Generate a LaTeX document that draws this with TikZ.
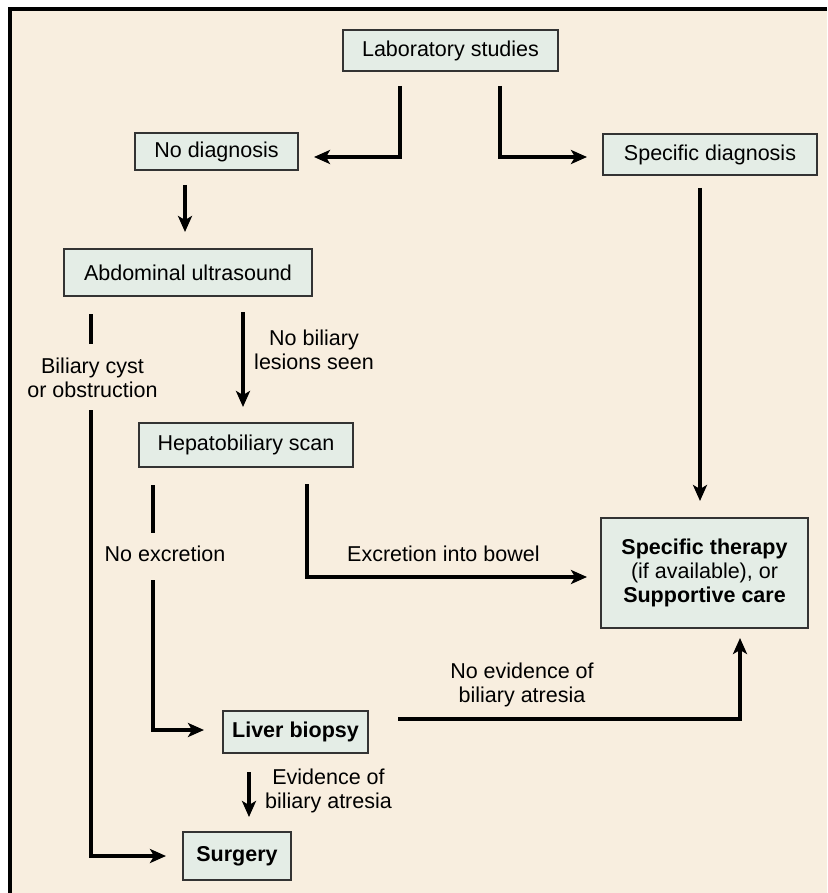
\documentclass[tikz,border=0pt]{standalone}
\usepackage{fontspec}
\setmainfont{Liberation Sans}
\usetikzlibrary{arrows.meta}
\definecolor{bgc}{HTML}{F8EEDF}
\definecolor{boxc}{HTML}{E4EDE6}
\definecolor{edgec}{HTML}{333333}
\tikzset{
  stepbox/.style={draw=edgec, line width=2pt, fill=boxc, inner sep=0pt, align=center,
    font=\fontsize{21.5}{24}\selectfont},
  lbl/.style={inner sep=0pt, align=center, font=\fontsize{21.5}{24}\selectfont},
  conn/.style={line width=3.2pt, black},
  arr/.style={conn, -{Stealth[length=16pt,width=14pt,inset=4pt]}},
}
\begin{document}
\begin{tikzpicture}[x=1pt,y=-1pt]
\useasboundingbox (0,0) rectangle (827,893);
\fill[white] (0,0) rectangle (827,893);
\fill[bgc] (10,9) rectangle (827,893);
\draw[line width=3.5pt] (10,893) -- (10,9) -- (827,9);

% boxes
\node[stepbox, minimum width=215pt, minimum height=41pt] (lab) at (450.5,50.5) {Laboratory studies};
\node[stepbox, minimum width=163pt, minimum height=37pt] (nodiag) at (216.5,151.5) {No diagnosis};
\node[stepbox, minimum width=214pt, minimum height=41pt] (specdiag) at (710,154.5) {Specific diagnosis};
\node[stepbox, minimum width=248pt, minimum height=47pt] (abd) at (188,272.5) {Abdominal ultrasound};
\node[stepbox, minimum width=214pt, minimum height=44pt] (hep) at (246,445) {Hepatobiliary scan};
\node[stepbox, minimum width=207pt, minimum height=110pt] (ther) at (704.5,573) {\textbf{Specific therapy}\\(if available), or\\\textbf{Supportive care}};
\node[stepbox, minimum width=145pt, minimum height=42pt] (liver) at (295.5,732) {\textbf{Liver biopsy}};
\node[stepbox, minimum width=108pt, minimum height=48pt] (surg) at (237,856) {\textbf{Surgery}};

% labels
\node[lbl] (lnobil) at (314,350) {No biliary\\lesions seen};
\node[lbl] (lcyst) at (92.5,378) {Biliary cyst\\or obstruction};
\node[lbl] (lnoexc) at (165,554) {No excretion};
\node[lbl, anchor=west] (lexc) at (347,554) {Excretion into bowel};
\node[lbl] (lnoev) at (522,685) {No evidence of\\biliary atresia};
\node[lbl, anchor=west] (lev) at (265,791) {Evidence of\\biliary atresia};

% connectors
\draw[arr, shorten <=14pt, shorten >=15pt] (lab.south -| 400,0) |- (nodiag.east |- 0,157);
\draw[arr, shorten <=14pt, shorten >=15pt] (lab.south -| 500,0) |- (specdiag.west |- 0,157);
\draw[arr, shorten <=14pt, shorten >=16pt] (nodiag.south -| 185,0) -- (abd.north -| 185,0);
\draw[arr, shorten <=15pt, shorten >=15pt] (abd.south -| 243,0) -- (hep.north -| 243,0);
\draw[arr, shorten <=12pt, shorten >=16pt] (specdiag.south -| 700,0) -- (ther.north -| 700,0);

\coordinate (c1a) at (91,344);
\coordinate (c1b) at (91,410);
\draw[conn, shorten <=17pt] (abd.south -| 91,0) -- (c1a);
\draw[arr, shorten >=16pt] (c1b) |- (surg.west);

\coordinate (c2a) at (153,533);
\coordinate (c2b) at (153,580);
\draw[conn, shorten <=17pt] (hep.south -| 153,0) -- (c2a);
\draw[arr, shorten >=18pt] (c2b) |- (liver.west |- 0,730);

\draw[arr, shorten <=16pt, shorten >=13pt] (hep.south -| 307,0) |- (ther.west |- 0,577);
\draw[arr, shorten <=29pt, shorten >=9pt] (liver.east |- 0,719) -| (ther.south -| 740,0);
\draw[arr, shorten <=18pt, shorten >=14pt] (liver.south -| 249,0) -- (surg.north -| 249,0);
\end{tikzpicture}
\end{document}
